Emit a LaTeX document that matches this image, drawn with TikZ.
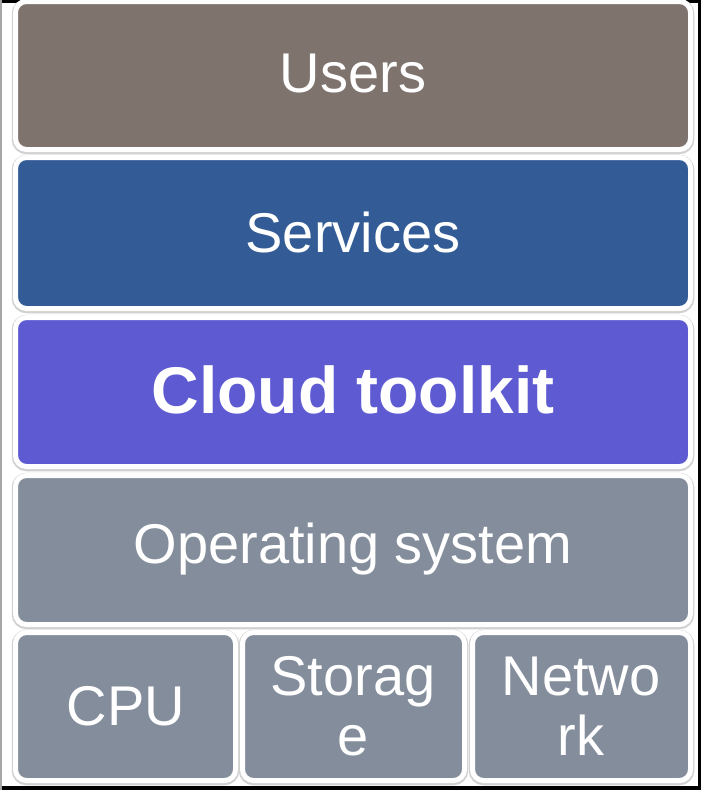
\documentclass[tikz,border=0pt]{standalone}
\usepackage{fontspec}
\setmainfont{Liberation Sans}
\usetikzlibrary{shadows}
\definecolor{usersc}{HTML}{7F736D}
\definecolor{servc}{HTML}{335C96}
\definecolor{cloudc}{HTML}{5E5AD1}
\definecolor{osc}{HTML}{848D9B}
\begin{document}
\begin{tikzpicture}[x=1pt,y=-1pt,
  halo/.style={draw=black!18,line width=7.5pt,rounded corners=11pt},
  layer/.style={draw=white,line width=5pt,rounded corners=11pt},
  lbl/.style={text=white,font=\fontsize{56}{60}\selectfont,align=center}]
\useasboundingbox (0,0) rectangle (701,790);
\fill[white] (0,0) rectangle (701,790);
% frame
\fill[black] (0,0) rectangle (701,2.5);
\fill[black] (0,785.5) rectangle (701,790);
\fill[black] (697.5,0) rectangle (701,790);
\fill[gray!70] (0,0) rectangle (1.5,790);
% halos
\path[halo] (15.5,2.5) rectangle (690.5,150.5);
\path[halo] (15.5,158.5) rectangle (690.5,309.5);
\path[halo] (15.5,318.5) rectangle (690.5,467.5);
\path[halo] (15.5,476.5) rectangle (690.5,625.5);
\path[halo] (15.5,633.5) rectangle (235.5,781.5);
\path[halo] (242.5,633.5) rectangle (464.5,781.5);
\path[halo] (472.5,633.5) rectangle (690.5,781.5);
% layers
\path[layer,fill=usersc] (15.5,1.5) rectangle (690.5,149.5);
\path[layer,fill=servc] (15.5,157.5) rectangle (690.5,308.5);
\path[layer,fill=cloudc] (15.5,317.5) rectangle (690.5,466.5);
\path[layer,fill=osc] (15.5,475.5) rectangle (690.5,624.5);
\path[layer,fill=osc] (15.5,632.5) rectangle (235.5,780.5);
\path[layer,fill=osc] (242.5,632.5) rectangle (464.5,780.5);
\path[layer,fill=osc] (472.5,632.5) rectangle (690.5,780.5);
% labels
\node[lbl] (users) at (353,74) {Users};
\node[lbl] (services) at (353,232) {Services};
\node[lbl,font=\fontsize{66}{70}\selectfont\bfseries] (cloud) at (353,390) {Cloud toolkit};
\node[lbl] (os) at (353,549) {Operating system};
\node[lbl] (cpu) at (126,706) {CPU};
\node[lbl] (storage) at (353,706) {Storag\\e};
\node[lbl] (network) at (581,706) {Netwo\\rk};
\end{tikzpicture}
\end{document}
